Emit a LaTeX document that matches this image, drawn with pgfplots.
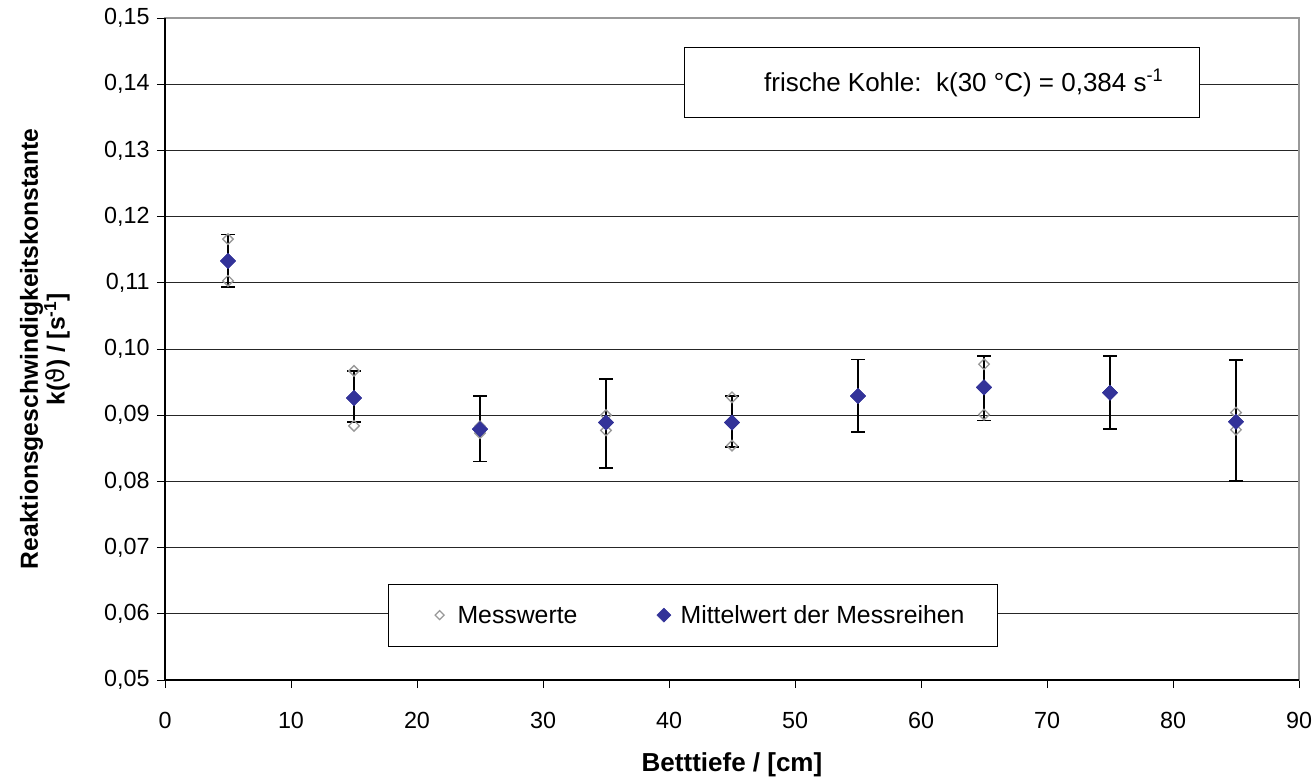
\documentclass[border=0pt]{standalone}
\usepackage{pgfplots}
\pgfplotsset{compat=1.18}
\usetikzlibrary{calc}
\usepackage{fontspec}
\setmainfont{Liberation Sans}
\newfontfamily\dejavu{DejaVu Sans}
\definecolor{meanblue}{HTML}{333399}
\definecolor{framegray}{HTML}{999999}

\pgfplotstableread{
x mean eplus eminus
5  0.1133 0.0040 0.0039
15 0.0926 0.0041 0.0036
25 0.0879 0.0050 0.0049
35 0.0889 0.0066 0.0069
45 0.0889 0.0040 0.0037
55 0.0929 0.0055 0.0054
65 0.0942 0.0047 0.0050
75 0.0934 0.0055 0.0055
85 0.0890 0.0093 0.0089
}\meantable

\pgfplotstableread{
x y
5  0.1166
5  0.1103
15 0.0967
15 0.0884
25 0.0883
25 0.0873
35 0.0900
35 0.0877
45 0.0927
45 0.0854
55 0.0929
65 0.0977
65 0.0901
85 0.0904
85 0.0878
}\mtable

\begin{document}
\begin{tikzpicture}
\begin{axis}[
  name=ax,
  scale only axis,
  width=850.5pt, height=496.5pt,
  xmin=0, xmax=90, ymin=0.05, ymax=0.15,
  xtick={0,10,...,90},
  ytick={0.05,0.06,...,0.151},
  /pgf/number format/assume math mode=true,
  tick label style={font=\fontsize{17.5}{20}\selectfont},
  xticklabel style={yshift=-14.5pt},
  yticklabel style={xshift=-2pt, /pgf/number format/.cd, fixed, fixed zerofill, precision=2, use comma},
  ymajorgrids,
  grid style={black!85, line width=0.6pt},
  axis line style={framegray, line width=0.8pt},
  tick align=outside,
  tick style={black, line width=0.6pt},
  major tick length=6pt,
  xtick pos=bottom, ytick pos=left,
  xlabel={Betttiefe / [cm]},
  ylabel={Reaktionsgeschwindigkeitskonstante\\k({\dejavu\mdseries ϑ}) / [s\textsuperscript{-1}]},
  xlabel style={at={(axis description cs:0.5,0)}, anchor=center, yshift=-63.75pt, font=\bfseries\fontsize{19.5}{20}\selectfont},
  ylabel style={at={(axis description cs:-0.106,0.5)}, anchor=center, rotate=0, align=center, font=\bfseries\fontsize{18.5}{19}\selectfont},
  clip=false,
]
\addplot[
  only marks,
  mark=square*,
  mark size=4pt,
  mark options={rotate=45, fill=meanblue, draw=meanblue},
  error bars/.cd,
    y dir=both, y explicit,
    error bar style={black, line width=1.3pt},
    error mark options={black, line width=1.3pt, rotate=90, mark size=5pt},
] table[x=x, y=mean, y error plus=eplus, y error minus=eminus] {\meantable};
\addplot[
  only marks,
  mark=square,
  mark size=2.8pt,
  mark options={rotate=45, draw=framegray, line width=1pt},
] table[x=x, y=y] {\mtable};
\addplot[
  only marks,
  mark=square*,
  mark size=4pt,
  mark options={rotate=45, fill=meanblue, draw=meanblue},
] table[x=x, y=mean] {\meantable};

% legend box
\draw[black, line width=0.7pt, fill=white] (axis cs:17.7,0.0645) rectangle (axis cs:66.1,0.0550);
\node[anchor=west, font=\fontsize{18.6}{22}\selectfont, inner sep=0pt] at (axis cs:23.2,0.0598) {Messwerte};
\node[anchor=west, font=\fontsize{18.6}{22}\selectfont, inner sep=0pt] at (axis cs:40.9,0.0598) {Mittelwert der Messreihen};

% text box
\draw[black, line width=0.7pt, fill=white] (axis cs:41.2,0.1456) rectangle (axis cs:82.1,0.1349);
\node[font=\fontsize{19.5}{22}\selectfont, inner sep=0pt] at (axis cs:63.4,0.1402) {frische Kohle:\ \ k(30 °C) = 0,384 s\textsuperscript{-1}};
\end{axis}
% legend markers
\begin{axis}[
  at={(ax.south west)}, anchor=south west,
  scale only axis, width=850.5pt, height=496.5pt,
  xmin=0, xmax=90, ymin=0.05, ymax=0.15,
  hide axis, clip=false,
]
\addplot[only marks, mark=square, mark size=2.4pt, mark options={rotate=45, draw=framegray, line width=0.9pt}] coordinates {(21.8,0.0598)};
\addplot[only marks, mark=square*, mark size=3.7pt, mark options={rotate=45, fill=meanblue, draw=meanblue}] coordinates {(39.6,0.0598)};
\end{axis}
\draw[black, line width=0.8pt] (ax.north west) -- (ax.south west) -- (ax.south east);
\pgfresetboundingbox
\path (ax.south west) ++(-123.75pt,-72.75pt) rectangle ($(ax.north east)+(12pt,13.5pt)$);
\end{tikzpicture}
\end{document}
